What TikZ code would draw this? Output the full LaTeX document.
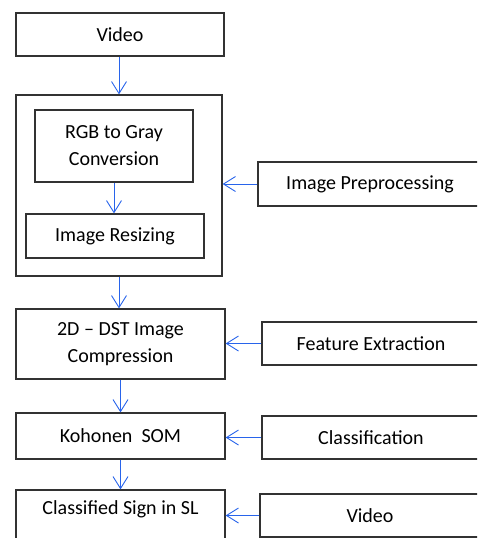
\documentclass[tikz,border=0pt]{standalone}
\usepackage{fontspec}
\setmainfont{Carlito}
\usetikzlibrary{arrows.meta}
\definecolor{arrblue}{RGB}{40,100,235}
\definecolor{boxline}{RGB}{50,50,50}
\begin{document}
\begin{tikzpicture}[x=1pt,y=-1pt,
  box/.style={draw=boxline, line width=1.3pt, inner sep=0pt, align=center,
    font=\fontsize{20}{27}\selectfont},
  arr/.style={draw=arrblue, line width=0.9pt, -{Straight Barb[length=12pt,width=15pt]}}]
\clip (0,0) rectangle (477,538);
\node[box, minimum width=208, minimum height=43] (video) at (120,34.5) {Video};
\node[box, minimum width=206, minimum height=181] (outer) at (119,185.5) {};
\node[box, minimum width=158, minimum height=72] (rgb) at (114,146) {RGB to Gray\\Conversion};
\node[box, minimum width=178, minimum height=44] (resize) at (115,236) {Image Resizing};
\node[box, minimum width=224, minimum height=44] (prep) at (370,184) {Image Preprocessing};
\node[box, minimum width=209, minimum height=70] (dst) at (120.5,344) {2D -- DST Image\\Compression};
\node[box, minimum width=218, minimum height=43] (feat) at (371,343.5) {Feature Extraction};
\node[box, minimum width=209, minimum height=46] (koh) at (120.5,436) {Kohonen~ SOM};
\node[box, minimum width=218, minimum height=43] (class) at (371,437.5) {Classification};
\node[box, minimum width=209, minimum height=70] (cls) at (120.5,525) {Classified Sign in SL\\\strut};
\node[box, minimum width=220, minimum height=43] (vid2) at (370,515.5) {Video};
\draw[arr] (video.south -| outer.north) -- (outer.north);
\draw[arr] (rgb.south) -- (rgb.south |- resize.north);
\draw[arr] (outer.south) -- (outer.south |- dst.north);
\draw[arr] (dst.south) -- (koh.north);
\draw[arr] (koh.south) -- (cls.north);
\draw[arr] (prep.west) -- (prep.west -| outer.east);
\draw[arr] (feat.west) -- (feat.west -| dst.east);
\draw[arr] (class.west) -- (class.west -| koh.east);
\draw[arr] (vid2.west) -- (vid2.west -| cls.east);
\end{tikzpicture}
\end{document}
